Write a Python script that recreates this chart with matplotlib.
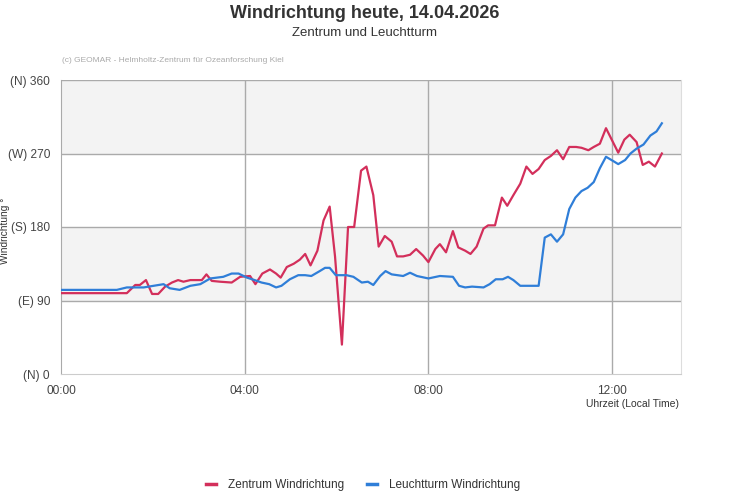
import numpy as np
import matplotlib
matplotlib.use("Agg")
import matplotlib.pyplot as plt

plt.rcParams['font.family'] = ['Liberation Sans', 'DejaVu Sans']

# minutes after midnight, wind direction in degrees
zentrum_min = [0, 86, 97, 103, 111, 119, 127, 136, 145, 153, 160, 169, 184, 190, 197, 208, 223, 234,
               247, 254, 263, 273, 281, 287, 295, 304, 312, 319, 326, 335, 343, 351, 358, 367, 375,
               383, 392, 399, 408, 415, 423, 432, 439, 447, 456, 464, 473, 480, 489, 495, 503, 512,
               519, 528, 535, 543, 552, 558, 567, 576, 583, 591, 600, 608, 616, 624, 632, 640, 648,
               656, 664, 673, 680, 689, 696, 704, 712, 720, 728, 736, 743, 752, 760, 768, 776, 785]
zentrum_deg = [99, 99, 109, 109, 115, 98, 98, 107, 112, 115, 113, 115, 115, 122, 114, 113, 112, 119,
               120, 110, 123, 128, 123, 118, 131, 135, 140, 147, 133, 151, 188, 205, 144, 36, 180,
               180, 249, 254, 219, 156, 169, 162, 144, 144, 146, 153, 145, 137, 153, 159, 149, 175,
               155, 151, 147, 156, 178, 182, 182, 216, 206, 219, 233, 254, 245, 251, 262, 267, 274,
               263, 278, 278, 277, 274, 278, 282, 301, 286, 271, 287, 293, 284, 256, 260, 254, 270]

leucht_min = [0, 73, 86, 108, 121, 134, 142, 155, 169, 182, 195, 212, 223, 232, 243, 253, 262, 272,
              281, 288, 299, 310, 319, 327, 338, 345, 351, 359, 373, 382, 393, 401, 408, 417, 424,
              432, 447, 456, 465, 480, 495, 512, 520, 528, 537, 552, 560, 568, 577, 584, 591, 600,
              624, 632, 640, 648, 656, 664, 672, 680, 688, 696, 704, 712, 721, 728, 737, 744, 752,
              761, 770, 778, 785]
leucht_deg = [103, 103, 106, 106, 108, 110, 105, 103, 108, 110, 117, 119, 123, 123, 118, 115, 112, 110,
              106, 108, 116, 121, 121, 120, 126, 130, 130, 121, 121, 119, 112, 113, 109, 120, 126,
              122, 120, 124, 120, 117, 120, 119, 108, 106, 107, 106, 110, 116, 116, 119, 115, 108,
              108, 167, 171, 162, 171, 202, 216, 224, 228, 235, 252, 266, 261, 257, 262, 270, 276,
              281, 292, 297, 307]

yticks = [0, 90, 180, 270, 360]
ylabels = ["(N) 0", "(E) 90", "(S) 180", "(W) 270", "(N) 360"]
xticks = [0, 240, 480, 720]
xlabels = ["00:00", "04:00", "08:00", "12:00"]

W, H = 731, 500
fig = plt.figure(figsize=(W / 100, H / 100), dpi=100)
ax = fig.add_axes([61 / W, (H - 374) / H, 620 / W, 294 / H])

# alternating bands
for lo, hi in [(90, 180), (270, 360)]:
    ax.axhspan(lo, hi, color='#f3f3f3', zorder=0, lw=0)

for v in [90, 180, 270, 360]:
    ax.axhline(v, color='#aaaaaa', lw=1, zorder=1)
for v in xticks[1:]:
    ax.axvline(v, color='#aaaaaa', lw=1, zorder=1)

ax.plot(zentrum_min, zentrum_deg, color='#d32f5b', lw=1.6, zorder=3, label='Zentrum Windrichtung')
ax.plot(leucht_min, leucht_deg, color='#2f7ed8', lw=1.6, zorder=3, label='Leuchtturm Windrichtung')

ax.set_xlim(0, 810)
ax.set_ylim(0, 360)
ax.set_yticks(yticks)
ax.set_yticklabels(ylabels)
ax.set_xticks(xticks)
ax.set_xticklabels(xlabels)
ax.tick_params(length=0, labelsize=8.6, colors='#444444', pad=8)
ax.tick_params(axis='y', pad=8)

ax.spines['top'].set_visible(False)
ax.spines['left'].set_color('#aaaaaa')
ax.spines['bottom'].set_color('#cccccc')
ax.spines['right'].set_color('#dddddd')

fig.text(5 / W, 1 - 231 / H, "Windrichtung °", rotation=90, ha='center', va='center',
         fontsize=7.3, color='#333333')
fig.text(365 / W, 1 - 13 / H, "Windrichtung heute, 14.04.2026", ha='center', va='center',
         fontsize=13, fontweight='bold', color='#333333')
fig.text(365 / W, 1 - 33 / H, "Zentrum und Leuchtturm", ha='center', va='center',
         fontsize=9.5, color='#333333')
fig.text(62 / W, 1 - 60 / H, "(c) GEOMAR - Helmholtz-Zentrum für Ozeanforschung Kiel",
         ha='left', va='center', fontsize=6, color='#aaaaaa')
fig.text(679 / W, 1 - 404 / H, "Uhrzeit (Local Time)", ha='right', va='center',
         fontsize=7.5, color='#333333')

leg = fig.legend(loc='center', bbox_to_anchor=(363 / W, 1 - 485 / H), ncol=2, frameon=False,
                 fontsize=8.5, handlelength=0.8, columnspacing=2.0, handletextpad=1.0)
for t in leg.get_texts():
    t.set_color('#333333')
for h in leg.get_lines():
    h.set_linewidth(2.5)

fig.savefig("out.png", dpi=100)
